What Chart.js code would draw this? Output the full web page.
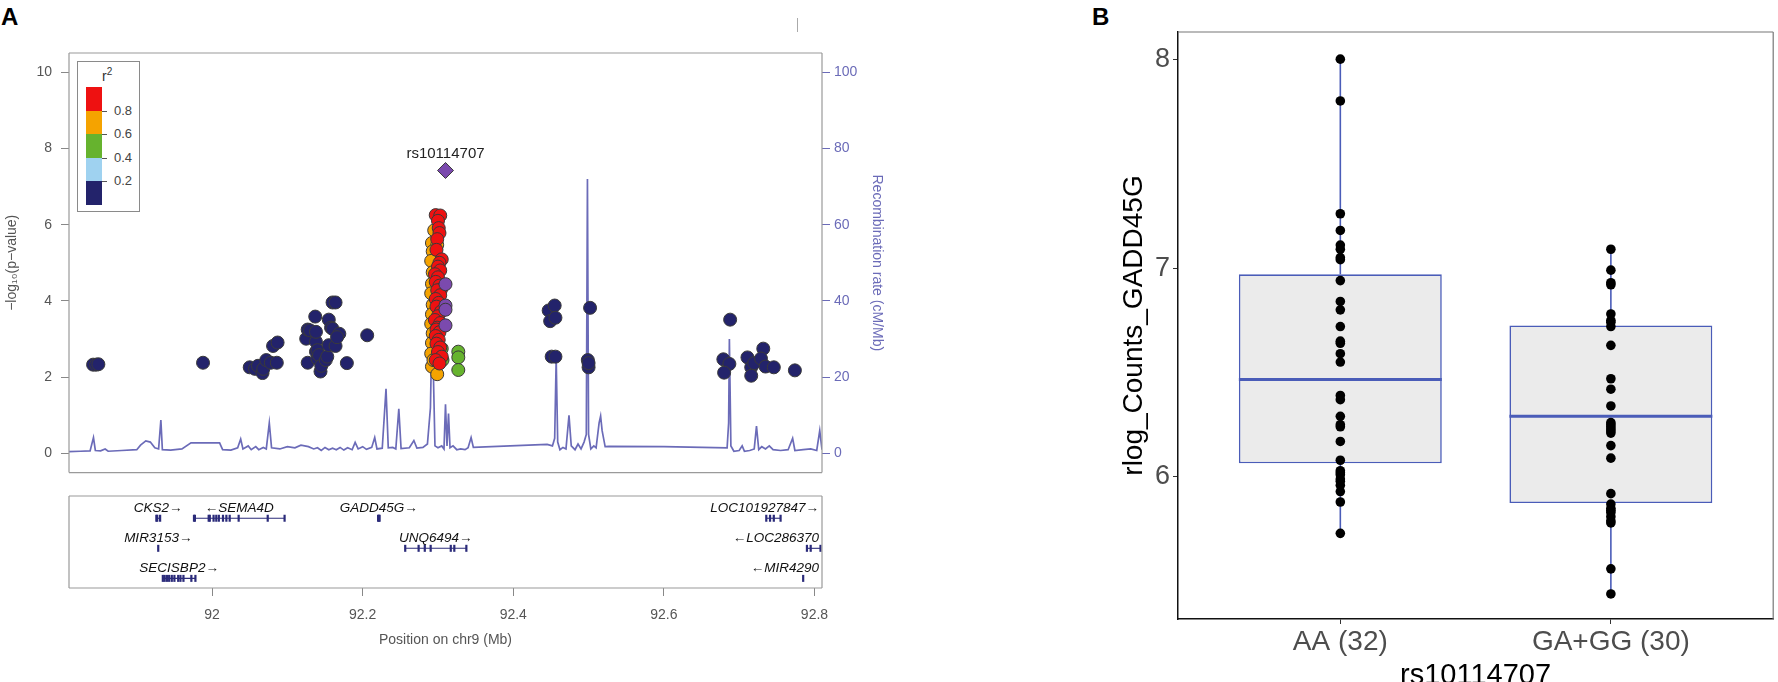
<!DOCTYPE html>
<html>
<head>
<meta charset="utf-8">
<script src="https://cdn.jsdelivr.net/npm/chart.js@4.4.1/dist/chart.umd.min.js"></script>
<style>
  html, body { margin: 0; padding: 0; overflow: hidden; background: #fff; width: 1778px; height: 682px; }
  body { font-family: "Liberation Sans", Arial, sans-serif; position: relative; }
  .pane { position: absolute; }
  .tag { position: absolute; font: bold 24px "Liberation Sans", Arial, sans-serif; color: #000; }
  #legend { position: absolute; left: 77px; top: 61px; width: 63px; height: 151px; border: 1px solid #8a8a8a; box-sizing: border-box; background: #fff; }
  #legend .r2 { position: absolute; left: 24px; top: 4px; font-size: 14px; color: #333; }
  #legend .sw { position: absolute; left: 8px; width: 16px; }
  #legend .tk { position: absolute; left: 24px; width: 5px; height: 1px; background: #555; }
  #legend .lb { position: absolute; left: 36px; font-size: 13px; color: #444; line-height: 14px; }
  .stray { position: absolute; left: 797px; top: 18px; width: 1px; height: 14px; background: #aaa; }
</style>
</head>
<body>
<div class="tag" style="left:1px;top:3px">A</div>
<div class="tag" style="left:1092px;top:3px">B</div>
<div class="stray"></div>

<div class="pane" style="left:0;top:0;width:900px;height:490px"><canvas id="assoc"></canvas></div>
<div class="pane" style="left:0;top:480px;width:900px;height:202px"><canvas id="genes"></canvas></div>
<div class="pane" style="left:1100px;top:0;width:678px;height:700px"><canvas id="expr"></canvas></div>
<div id="legend"></div>

<script>
// ---------- panel A: regional association ----------
const regionMin = 91.81;
const regionMax = 92.81;
const posTicks = [92, 92.2, 92.4, 92.6, 92.8];
const pTicks = [0, 2, 4, 6, 8, 10];
const recombTicks = [0, 20, 40, 60, 80, 100];

const ldColors = ["#ee1111", "#f5a300", "#66b32e", "#9fd2f0", "#23236b"];
const ldBreaks = ["0.8", "0.6", "0.4", "0.2"];
const leadColor = "#7b4aae";
const recombColor = "#6b6bb8";

const leadName = "rs10114707";
const leadSnp = [92.310, 7.42];

// [position Mb, -log10 p]
const navySnps = [
  [91.842, 2.33], [91.846, 2.33], [91.849, 2.34], [91.988, 2.38],
  [92.050, 2.26], [92.057, 2.22], [92.061, 2.30], [92.067, 2.11], [92.068, 2.22], [92.072, 2.45],
  [92.078, 2.38], [92.086, 2.38], [92.081, 2.82], [92.087, 2.91],
  [92.125, 3.01], [92.127, 3.25], [92.127, 2.38], [92.130, 3.23], [92.137, 3.59], [92.138, 2.93],
  [92.138, 2.67], [92.138, 3.19], [92.140, 2.49], [92.140, 2.71], [92.142, 2.58], [92.144, 2.15],
  [92.145, 2.30], [92.151, 2.45], [92.153, 2.54], [92.155, 3.51], [92.155, 2.84], [92.158, 3.30],
  [92.160, 3.96], [92.164, 3.96], [92.160, 3.27], [92.164, 2.82], [92.169, 3.14], [92.166, 3.05],
  [92.179, 2.37], [92.206, 3.10],
  [92.447, 3.75], [92.455, 3.88], [92.449, 3.47], [92.456, 3.56], [92.451, 2.54], [92.456, 2.54],
  [92.502, 3.82], [92.499, 2.45], [92.500, 2.26], [92.500, 2.37],
  [92.688, 3.51], [92.679, 2.47], [92.687, 2.35], [92.680, 2.12], [92.711, 2.52], [92.716, 2.26],
  [92.716, 2.04], [92.720, 2.37], [92.732, 2.75], [92.729, 2.49], [92.735, 2.28], [92.746, 2.26],
  [92.774, 2.18]
];
const greenSnps = [[92.327, 2.67], [92.327, 2.52], [92.327, 2.19], [92.306, 2.45], [92.305, 2.75]];
const orangeSnps = [
  [92.292, 5.52], [92.299, 5.47], [92.293, 5.30], [92.291, 5.05], [92.293, 4.75], [92.292, 4.45],
  [92.291, 4.20], [92.293, 3.90], [92.292, 3.65], [92.291, 3.40], [92.293, 3.15], [92.292, 2.90],
  [92.291, 2.62], [92.292, 2.28], [92.299, 2.08], [92.294, 2.45], [92.295, 5.85]
];
const redSnps = [
  [92.297, 6.25], [92.303, 6.24], [92.300, 6.10], [92.301, 5.91], [92.302, 5.78], [92.299, 5.62],
  [92.298, 5.34], [92.305, 5.09], [92.302, 5.00], [92.300, 4.90], [92.303, 4.80], [92.296, 4.70],
  [92.300, 4.62], [92.297, 4.50], [92.302, 4.40], [92.304, 4.30], [92.299, 4.28], [92.303, 4.15],
  [92.297, 4.05], [92.301, 3.95], [92.298, 3.85], [92.304, 3.72], [92.300, 3.60], [92.296, 3.50],
  [92.303, 3.42], [92.299, 3.30], [92.298, 3.25], [92.302, 3.18], [92.297, 3.08], [92.301, 2.98],
  [92.298, 2.88], [92.303, 2.78], [92.300, 2.66], [92.305, 2.54], [92.297, 2.45], [92.302, 2.36]
];
const purpleSnps = [[92.310, 4.44], [92.310, 3.88], [92.310, 3.77], [92.310, 3.36]];

// [position Mb, cM/Mb]
const recombRate = [
  [91.810, 0.5], [91.825, 0.6], [91.838, 0.7], [91.8425, 4.2], [91.845, 0.8], [91.852, 0.7],
  [91.858, 1.2], [91.862, 0.6], [91.880, 0.8], [91.900, 1.0], [91.905, 2.2], [91.912, 3.3],
  [91.918, 3.0], [91.924, 1.5], [91.929, 1.2], [91.932, 8.8], [91.934, 1.0], [91.945, 0.9],
  [91.960, 1.2], [91.972, 2.8], [91.990, 2.8], [92.010, 2.8], [92.014, 1.0], [92.025, 0.9],
  [92.034, 1.5], [92.038, 3.8], [92.041, 1.2], [92.048, 2.0], [92.052, 1.0], [92.058, 1.8],
  [92.062, 1.0], [92.068, 1.6], [92.072, 1.2], [92.076, 8.0], [92.079, 1.5], [92.090, 1.2],
  [92.100, 1.8], [92.110, 1.5], [92.118, 2.2], [92.128, 1.8], [92.135, 1.2], [92.140, 1.5],
  [92.145, 0.8], [92.150, 1.6], [92.155, 1.0], [92.160, 1.4], [92.165, 1.0], [92.170, 1.6],
  [92.175, 0.9], [92.180, 1.5], [92.186, 1.0], [92.190, 2.9], [92.194, 1.2], [92.200, 1.8],
  [92.205, 1.1], [92.212, 1.6], [92.216, 4.2], [92.219, 1.2], [92.226, 1.4], [92.231, 17.0],
  [92.234, 1.5], [92.240, 1.6], [92.244, 1.2], [92.248, 11.7], [92.251, 1.3], [92.262, 1.5],
  [92.268, 3.4], [92.272, 1.4], [92.280, 1.6], [92.286, 2.5], [92.290, 12.0], [92.292, 33.0],
  [92.294, 20.0], [92.296, 2.0], [92.300, 1.5], [92.305, 2.0], [92.308, 1.2], [92.310, 12.9],
  [92.312, 2.0], [92.314, 10.5], [92.316, 1.5], [92.320, 2.0], [92.325, 1.0], [92.330, 1.2],
  [92.336, 1.0], [92.340, 1.5], [92.344, 4.2], [92.347, 1.6], [92.445, 2.4], [92.452, 2.0],
  [92.455, 4.0], [92.457, 25.0], [92.459, 3.0], [92.462, 1.0], [92.466, 1.6], [92.470, 1.2],
  [92.474, 10.0], [92.477, 2.0], [92.482, 1.0], [92.486, 2.5], [92.490, 1.2], [92.494, 3.0],
  [92.497, 5.0], [92.4985, 72.0], [92.500, 5.0], [92.503, 1.2], [92.507, 2.0], [92.510, 1.5],
  [92.514, 8.0], [92.516, 9.8], [92.518, 6.0], [92.522, 1.8], [92.527, 1.9], [92.600, 1.8],
  [92.684, 1.5], [92.686, 8.0], [92.687, 30.0], [92.689, 2.0], [92.693, 0.6], [92.700, 0.8],
  [92.704, 2.0], [92.707, 0.6], [92.714, 0.8], [92.720, 1.2], [92.723, 7.2], [92.726, 1.0],
  [92.730, 1.8], [92.735, 1.2], [92.740, 2.0], [92.745, 1.0], [92.755, 0.8], [92.765, 1.0],
  [92.771, 4.0], [92.774, 0.8], [92.785, 1.0], [92.795, 1.2], [92.803, 0.8], [92.807, 6.0],
  [92.810, 1.0]
];

// gene track
const geneNames = ["CKS2", "SEMA4D", "GADD45G", "MIR3153", "UNQ6494", "SECISBP2", "LOC101927847", "LOC286370", "MIR4290"];
const geneStrand = ["+", "-", "+", "+", "+", "+", "+", "-", "-"];
const geneRow = [1, 1, 1, 2, 2, 3, 1, 2, 3];
const geneStart = [91.926, 91.976, 92.2205, 91.9285, 92.2565, 91.9346, 92.736, 92.790, 92.785];
const geneEnd = [91.931, 92.0963, 92.2225, 91.9286, 92.3377, 91.9779, 92.755, 92.808, 92.7852];
const geneExons = [
  [91.926, 91.9272, 91.931],
  [91.976, 91.9772, 91.9955, 91.997, 92.002, 92.0056, 92.009, 92.0145, 92.019, 92.0234, 92.0353, 92.0739, 92.0963],
  [92.2205, 92.2215, 92.2225],
  [91.9285],
  [92.2565, 92.2743, 92.2825, 92.2903, 92.317, 92.3217, 92.3377],
  [91.9346, 91.937, 91.940, 91.943, 91.9465, 91.950, 91.955, 91.958, 91.962, 91.9725, 91.9779],
  [92.736, 92.741, 92.746, 92.755],
  [92.790, 92.795, 92.808],
  [92.785]
];

// ---------- panel B: expression by genotype ----------
const groupLabels = ["AA (32)", "GA+GG (30)"];
const aaExpr = [8.00, 7.80, 7.26, 7.18, 7.11, 7.09, 7.05, 7.04, 6.94, 6.84, 6.80, 6.72, 6.65, 6.64,
  6.59, 6.55, 6.39, 6.37, 6.29, 6.25, 6.24, 6.17, 6.08, 6.03, 6.02, 6.01, 5.99, 5.98, 5.96, 5.93,
  5.88, 5.73];
const gaExpr = [7.09, 6.99, 6.93, 6.92, 6.78, 6.75, 6.74, 6.72, 6.63, 6.47, 6.42, 6.34, 6.26, 6.25,
  6.24, 6.23, 6.22, 6.21, 6.15, 6.09, 5.92, 5.87, 5.85, 5.84, 5.83, 5.81, 5.79, 5.78, 5.56, 5.44];
// box statistics: [lower whisker, Q1, median, Q3, upper whisker]
const aaBox = [5.73, 6.065, 6.467, 6.97, 8.00];
const gaBox = [5.44, 5.875, 6.29, 6.725, 7.09];
const exprTicks = [6, 7, 8];

// ---------- helpers / plugins ----------
const FONT = "'Liberation Sans', Arial, sans-serif";
Chart.defaults.font.family = FONT;
const toXY = arr => arr.map(([x, y]) => ({ x, y }));

const framePlugin = {
  id: "frame",
  afterDraw(chart, args, opts) {
    const { ctx, chartArea: a } = chart;
    const sides = opts.sides || ["top", "right", "bottom", "left"];
    ctx.save();
    ctx.strokeStyle = opts.color || "#999";
    ctx.lineWidth = opts.width || 1;
    ctx.beginPath();
    if (sides.includes("top")) { ctx.moveTo(a.left, a.top); ctx.lineTo(a.right, a.top); }
    if (sides.includes("right")) { ctx.moveTo(a.right, a.top); ctx.lineTo(a.right, a.bottom); }
    if (sides.includes("bottom")) { ctx.moveTo(a.left, a.bottom); ctx.lineTo(a.right, a.bottom); }
    if (sides.includes("left")) { ctx.moveTo(a.left, a.top); ctx.lineTo(a.left, a.bottom); }
    ctx.stroke();
    ctx.restore();
  }
};

const leadLabelPlugin = {
  id: "leadLabel",
  afterDatasetsDraw(chart) {
    const { ctx, scales } = chart;
    const px = scales.x.getPixelForValue(leadSnp[0]);
    const py = scales.y.getPixelForValue(leadSnp[1]);
    ctx.save();
    ctx.font = "15px " + FONT;
    ctx.fillStyle = "#222";
    ctx.textAlign = "center";
    ctx.textBaseline = "middle";
    ctx.fillText(leadName, px, py - 17);
    ctx.restore();
  }
};

const geneLabelPlugin = {
  id: "geneLabels",
  afterDatasetsDraw(chart) {
    const { ctx, scales, chartArea: a } = chart;
    ctx.save();
    ctx.font = "italic 13.5px " + FONT;
    ctx.fillStyle = "#111";
    ctx.textBaseline = "middle";
    ctx.textAlign = "left";
    geneNames.forEach((name, i) => {
      const text = geneStrand[i] === "+" ? name + "\u2192" : "\u2190" + name;
      const w = ctx.measureText(text).width;
      const mid = scales.x.getPixelForValue((geneStart[i] + geneEnd[i]) / 2);
      let left = mid - w / 2;
      left = Math.min(left, a.right - 3 - w);
      left = Math.max(left, a.left + 3);
      ctx.fillText(text, left, scales.y.getPixelForValue(geneRow[i]) - 10);
    });
    ctx.restore();
  }
};

// ---------- legend (r2 colour bar) ----------
(function buildLegend() {
  const el = document.getElementById("legend");
  const top = 25, h = 23.5;
  let html = '<div class="r2">r<sup style="font-size:10px">2</sup></div>';
  ldColors.forEach((c, i) => {
    html += `<div class="sw" style="top:${top + i * h}px;height:${h + 0.5}px;background:${c}"></div>`;
  });
  ldBreaks.forEach((b, i) => {
    const y = top + (i + 1) * h;
    html += `<div class="tk" style="top:${y}px"></div><div class="lb" style="top:${y - 7}px">${b}</div>`;
  });
  el.innerHTML = html;
})();

// ---------- chart A1: association + recombination ----------
const snpStyle = (data, color, order) => ({
  type: "scatter",
  data: toXY(data),
  backgroundColor: color,
  borderColor: "#3a3a3a",
  borderWidth: 1,
  pointRadius: 6.5,
  order
});

new Chart(document.getElementById("assoc"), {
  type: "scatter",
  data: {
    datasets: [
      { type: "line", data: toXY(recombRate), yAxisID: "y2", borderColor: recombColor, borderWidth: 1.7,
        pointRadius: 0, tension: 0, fill: false, order: 10 },
      snpStyle(navySnps, ldColors[4], 6),
      snpStyle(greenSnps, ldColors[2], 5),
      snpStyle(orangeSnps, ldColors[1], 4),
      snpStyle(redSnps, ldColors[0], 3),
      snpStyle(purpleSnps, leadColor, 2),
      { type: "scatter", data: toXY([leadSnp]), backgroundColor: leadColor, borderColor: "#3a3a3a",
        borderWidth: 1, pointRadius: 8, pointStyle: "rectRot", order: 1 }
    ]
  },
  options: {
    responsive: true,
    maintainAspectRatio: false,
    animation: false,
    layout: { padding: { top: 53, bottom: 13, left: 0, right: 0 } },
    plugins: { legend: { display: false }, tooltip: { enabled: false }, frame: { color: "#9a9a9a", width: 1.2 } },
    scales: {
      x: { type: "linear", display: false, min: regionMin, max: regionMax },
      y: {
        position: "left", min: -0.5, max: 10.5,
        afterBuildTicks: s => { s.ticks = pTicks.map(v => ({ value: v })); },
        afterFit: s => { s.width = 69; },
        grid: { drawOnChartArea: false, tickLength: 8, color: "#888" },
        border: { display: false },
        ticks: { color: "#555", font: { size: 14 }, padding: 9 },
        title: { display: true, text: "\u2212log\u2081\u2080(p\u2212value)", color: "#555", font: { size: 14 }, padding: { top: 4, bottom: 0 } }
      },
      y2: {
        position: "right", min: -5, max: 105,
        afterBuildTicks: s => { s.ticks = recombTicks.map(v => ({ value: v })); },
        afterFit: s => { s.width = 78; },
        grid: { drawOnChartArea: false, tickLength: 8, color: recombColor },
        border: { display: false },
        ticks: { color: recombColor, font: { size: 14 }, padding: 4 },
        title: { display: true, text: "Recombination rate (cM/Mb)", color: recombColor, font: { size: 14 }, padding: { top: 15, bottom: 0 } }
      }
    }
  },
  plugins: [framePlugin, leadLabelPlugin]
});

// ---------- chart A2: gene track ----------
const geneDatasets = [];
geneNames.forEach((name, i) => {
  geneDatasets.push({
    type: "line",
    data: [{ x: geneStart[i], y: geneRow[i] }, { x: geneEnd[i], y: geneRow[i] }],
    borderColor: "#2b2b7a", borderWidth: 1.1, pointRadius: 0, fill: false
  });
  geneDatasets.push({
    type: "scatter",
    data: geneExons[i].map(x => ({ x, y: geneRow[i] })),
    pointStyle: "line", rotation: 90, pointRadius: 3.5, borderWidth: 2.2,
    borderColor: "#2b2b7a", backgroundColor: "#2b2b7a"
  });
});

new Chart(document.getElementById("genes"), {
  type: "scatter",
  data: { datasets: geneDatasets },
  options: {
    responsive: true,
    maintainAspectRatio: false,
    animation: false,
    layout: { padding: { top: 16, bottom: 0, left: 69, right: 78 } },
    plugins: { legend: { display: false }, tooltip: { enabled: false }, frame: { color: "#9a9a9a", width: 1.2 } },
    scales: {
      x: {
        type: "linear", min: regionMin, max: regionMax, position: "bottom",
        afterBuildTicks: s => { s.ticks = posTicks.map(v => ({ value: v })); },
        afterFit: s => { s.height = 94; },
        grid: { drawOnChartArea: false, tickLength: 8, color: "#888" },
        border: { display: false },
        ticks: { color: "#555", font: { size: 14 }, padding: 11, callback: v => String(v) },
        title: { display: true, text: "Position on chr9 (Mb)", color: "#555", font: { size: 14 }, padding: { top: 0, bottom: 33 } }
      },
      y: { display: false, min: 0.26, max: 3.32, reverse: true }
    }
  },
  plugins: [framePlugin, geneLabelPlugin]
});

// ---------- chart B: boxplot ----------
const boxBlue = "#4a5cb8";
const halfBox = 0.375;
const boxes = [aaBox, gaBox];
const medianLine = [];
const whiskerLine = [];
boxes.forEach((b, i) => {
  const c = i + 1;
  medianLine.push({ x: c - halfBox, y: b[2] }, { x: c + halfBox, y: b[2] }, { x: c + 0.5, y: null });
  whiskerLine.push({ x: c, y: b[0] }, { x: c, y: b[1] }, { x: c, y: null },
                   { x: c, y: b[3] }, { x: c, y: b[4] }, { x: c + 0.5, y: null });
});
const exprPoints = [
  ...aaExpr.map(y => ({ x: 1, y })),
  ...gaExpr.map(y => ({ x: 2, y }))
];

new Chart(document.getElementById("expr"), {
  type: "bar",
  data: {
    datasets: [
      { type: "bar", data: boxes.map((b, i) => ({ x: i + 1, y: [b[1], b[3]] })),
        backgroundColor: "#ebebeb", borderColor: boxBlue, borderWidth: 1.6, borderSkipped: false,
        barPercentage: 0.75, categoryPercentage: 1, order: 4 },
      { type: "line", data: whiskerLine, borderColor: boxBlue, borderWidth: 1.6, pointRadius: 0,
        spanGaps: false, fill: false, order: 3 },
      { type: "line", data: medianLine, borderColor: boxBlue, borderWidth: 3, pointRadius: 0,
        spanGaps: false, fill: false, order: 2 },
      { type: "scatter", data: exprPoints, backgroundColor: "#000", borderColor: "#000", borderWidth: 0,
        pointRadius: 4.8, order: 1 }
    ]
  },
  options: {
    responsive: true,
    maintainAspectRatio: false,
    animation: false,
    layout: { padding: { top: 32, bottom: 0, left: 0, right: 4 } },
    plugins: { legend: { display: false }, tooltip: { enabled: false },
      frame: { color: "#777", width: 1.2, sides: ["top", "right"] } },
    scales: {
      x: {
        type: "linear", min: 0.4, max: 2.6, offset: false,
        afterBuildTicks: s => { s.ticks = groupLabels.map((l, i) => ({ value: i + 1 })); },
        afterFit: s => { s.height = 81; },
        grid: { drawOnChartArea: false, offset: false, tickLength: 5, color: "#333" },
        border: { display: true, color: "#111", width: 1.5 },
        ticks: { color: "#4d4d4d", font: { size: 28 }, padding: 1, autoSkip: false, maxRotation: 0,
          callback: (v, i) => groupLabels[i] },
        title: { display: true, text: "rs10114707", color: "#000", font: { size: 29 }, padding: { top: 0, bottom: 7 } }
      },
      y: {
        min: 5.32, max: 8.13,
        afterBuildTicks: s => { s.ticks = exprTicks.map(v => ({ value: v })); },
        afterFit: s => { s.width = 78; },
        grid: { drawOnChartArea: false, tickLength: 5, color: "#333" },
        border: { display: true, color: "#111", width: 1.5 },
        ticks: { color: "#4d4d4d", font: { size: 27 }, padding: 3 },
        title: { display: true, text: "rlog_Counts_GADD45G", color: "#000", font: { size: 28 }, padding: { top: 17, bottom: 0 } }
      }
    }
  },
  plugins: [framePlugin]
});
</script>
</body>
</html>
